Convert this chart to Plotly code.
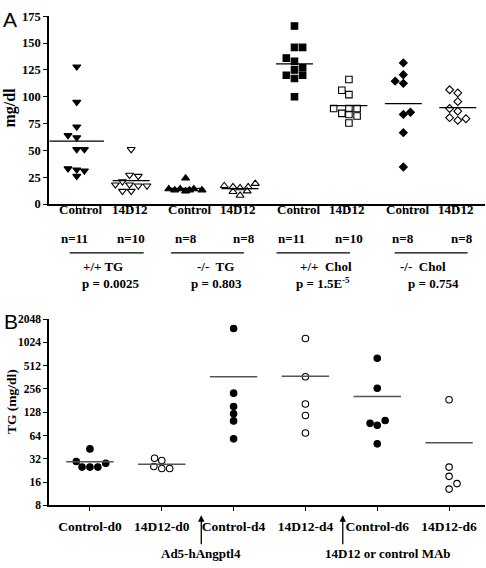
import numpy as np
import plotly.graph_objects as go

# ---------------- Panel A data ----------------
a_cat_labels = ["Control", "14D12", "Control", "14D12", "Control", "14D12", "Control", "14D12"]
a_n_labels = ["n=11", "n=10", "n=8", "n=8", "n=11", "n=10", "n=8", "n=8"]
a_group_labels = ["+/+ TG", "-/-\u00a0 TG", "+/+\u00a0 Chol", "-/-\u00a0 Chol"]
a_p_labels = ["p = 0.0025", "p = 0.803", "p = 1.5E<sup>-5</sup>", "p = 0.754"]

wt_tg_control = [128, 95, 72, 64, 62, 51, 51, 33, 32, 31, 26]
wt_tg_14d12 = [51, 27, 26, 18, 21, 18, 17, 17, 12, 12]
ko_tg_control = [24, 14, 13, 14, 12, 13, 14, 13]
ko_tg_14d12 = [17, 16, 15, 16, 19, 11.5, 12, 8]
wt_chol_control = [166, 146, 146, 136, 133, 127, 125, 120, 120, 117, 100]
wt_chol_14d12 = [116, 106, 102, 89, 89, 89, 84.5, 83.5, 82, 75.5]
ko_chol_control = [131.5, 120.5, 114.5, 112.5, 85.5, 83.5, 66.5, 34.5]
ko_chol_14d12 = [106.5, 103.5, 95.5, 89, 86.5, 80.5, 78, 79.5]

# horizontal spread of overlapping dots (category units)
jit_a = [
    [0, 0, 0, -0.16, 0, 0, 0.14, -0.16, 0, 0.14, 0],
    [0, -0.03, 0.13, -0.29, -0.16, -0.03, 0.13, 0.29, -0.16, 0.0],
    [0, -0.31, -0.2, -0.1, 0, 0.07, 0.15, 0.3],
    [-0.29, -0.13, 0, 0.15, 0.28, -0.13, 0.13, 0],
    [0, 0, 0.15, -0.15, 0, 0.15, 0, 0.15, -0.15, 0, 0],
    [0, -0.13, 0, -0.28, 0, 0.15, -0.13, 0, 0.15, 0],
    [0, 0, -0.15, 0, 0.13, 0, 0, 0],
    [-0.15, 0, 0, -0.15, 0, -0.15, 0, 0.15],
]
a_series = [wt_tg_control, wt_tg_14d12, ko_tg_control, ko_tg_14d12,
            wt_chol_control, wt_chol_14d12, ko_chol_control, ko_chol_14d12]
a_symbols = ["triangle-down", "triangle-down-open", "triangle-up", "triangle-up-open",
             "square", "square-open", "diamond", "diamond-open"]
a_sizes = [7, 7, 7, 7, 6.5, 6.5, 6, 6]
a_yticks = [0, 25, 50, 75, 100, 125, 150, 175]

# ---------------- Panel B data ----------------
b_categories = ["Control-d0", "14D12-d0", "Control-d4", "14D12-d4", "Control-d6", "14D12-d6"]
control_d0 = [43, 29.5, 25, 25, 25, 28]
mab_d0 = [32.5, 30.5, 25.5, 24, 24]
control_d4 = [1550, 226, 152, 122, 99, 58]
mab_d4 = [1150, 369, 164, 116, 69]
control_d6 = [638, 261, 92, 87, 100, 50]
mab_d6 = [186, 25, 19, 15.3, 13]
jit_b = [
    [0, -0.19, -0.11, 0, 0.11, 0.22],
    [-0.1, 0, -0.11, 0, 0.11],
    [0, 0, 0, 0, 0, 0],
    [0, 0, 0, 0, 0],
    [0, 0, -0.1, 0, 0.11, 0],
    [0, 0, 0, 0.11, 0],
]
b_series = [control_d0, mab_d0, control_d4, mab_d4, control_d6, mab_d6]
b_filled = [True, False, True, False, True, False]
b_yticks = [8, 16, 32, 64, 128, 256, 512, 1024, 2048]
b_notes = ["Ad5-hAngptl4", "14D12 or control MAb"]

SERIF = "Liberation Serif"
W, H = 486, 568
xdom = [49 / W, 485 / W]
ydomA = [1 - 202 / H, 1 - 9.5 / H]
ydomB = [1 - 511 / H, 1 - 320 / H]

fig = go.Figure()
shapes = []
annotations = []

for i, vals in enumerate(a_series):
    xs = [i + j for j in jit_a[i]]
    fig.add_trace(go.Scatter(
        x=xs, y=vals, mode="markers", xaxis="x", yaxis="y",
        marker=dict(symbol=a_symbols[i], size=a_sizes[i], color="black",
                    line=dict(color="black", width=1.1)),
        showlegend=False, hoverinfo="y"))
    m = float(np.mean(vals))
    hw = 0.5 if i == 0 else 0.34
    shapes.append(dict(type="line", xref="x", yref="y", x0=i - hw, x1=i + hw,
                       y0=m, y1=m, line=dict(color="black", width=1.2)))

for i, vals in enumerate(b_series):
    xs = [i + j for j in jit_b[i]]
    sym = "circle" if b_filled[i] else "circle-open"
    fig.add_trace(go.Scatter(
        x=xs, y=vals, mode="markers", xaxis="x2", yaxis="y2",
        marker=dict(symbol=sym, size=6.5, color="black",
                    line=dict(color="black", width=1.1)),
        showlegend=False, hoverinfo="y"))
    m = float(np.mean(vals))
    shapes.append(dict(type="line", xref="x2", yref="y2", x0=i - 0.33, x1=i + 0.33,
                       y0=m, y1=m, line=dict(color="#555555", width=1.5)))

bold = dict(family=SERIF, size=13, color="black", weight="bold")

# Panel A labels under the axis
lab_off = [0.07, -0.04] * 4
n_off = [-0.05, 0.0, 0.0, 0.08, -0.05, 0.0, 0.0, 0.08]
for i in range(8):
    annotations.append(dict(xref="x", yref="paper", x=i + lab_off[i], y=1 - 208 / H,
                            text=a_cat_labels[i], showarrow=False, font=bold,
                            xanchor="center", yanchor="middle"))
    annotations.append(dict(xref="x", yref="paper", x=i + n_off[i], y=1 - 237 / H,
                            text=a_n_labels[i], showarrow=False, font=bold,
                            xanchor="center", yanchor="middle"))
grp_line = [(-0.13, 1.23), (1.73, 3.07), (3.67, 5.02), (5.84, 7.18)]
grp_x = [0.49, 2.55, 4.57, 6.36]
p_x = [0.62, 2.57, 4.52, 6.56]
for g in range(4):
    x0, x1 = grp_line[g]
    shapes.append(dict(type="line", xref="x", yref="paper", x0=x0, x1=x1,
                       y0=1 - 252 / H, y1=1 - 252 / H, line=dict(color="black", width=1.2)))
    annotations.append(dict(xref="x", yref="paper", x=grp_x[g], y=1 - 266 / H,
                            text=a_group_labels[g], showarrow=False, font=bold,
                            xanchor="center", yanchor="middle"))
    annotations.append(dict(xref="x", yref="paper", x=p_x[g], y=1 - 283 / H,
                            text=a_p_labels[g], showarrow=False, font=bold,
                            xanchor="center", yanchor="middle"))

# Axis titles and panel letters
annotations.append(dict(xref="paper", yref="paper", x=10 / W, y=1 - 103 / H, text="mg/dl",
                        textangle=-90, showarrow=False,
                        font=dict(family=SERIF, size=16, color="black", weight="bold"),
                        xanchor="center", yanchor="middle"))
annotations.append(dict(xref="paper", yref="paper", x=11 / W, y=1 - 405 / H, text="TG (mg/dl)",
                        textangle=-90, showarrow=False,
                        font=dict(family=SERIF, size=13.5, color="black", weight="bold"),
                        xanchor="center", yanchor="middle"))
annotations.append(dict(xref="paper", yref="paper", x=1 / W, y=1 - 13 / H, text="A",
                        showarrow=False, font=dict(family="Liberation Sans", size=21, color="black"),
                        xanchor="left", yanchor="middle"))
annotations.append(dict(xref="paper", yref="paper", x=2 / W, y=1 - 322 / H, text="B",
                        showarrow=False, font=dict(family="Liberation Sans", size=21, color="black"),
                        xanchor="left", yanchor="middle"))

# Panel B arrows with their notes (text sits at the arrow tail)
pad = "\u00a0" * 28
for ax_x, txt in [(1.55, b_notes[0]), (3.52, pad + b_notes[1])]:
    annotations.append(dict(xref="x2", yref="paper", x=ax_x, y=1 - 521 / H, text=txt,
                            showarrow=True, arrowhead=2, arrowsize=1, arrowwidth=1.3,
                            arrowcolor="black", ax=0, ay=38, standoff=0,
                            font=bold, xanchor="center", yanchor="middle"))

axis_common = dict(showline=True, linecolor="black", linewidth=1.5, ticks="outside",
                   ticklen=4, tickwidth=1.2, tickcolor="black", showgrid=False,
                   zeroline=False, fixedrange=True)

fig.update_layout(
    width=W, height=H, margin=dict(l=0, r=0, t=0, b=0),
    paper_bgcolor="white", plot_bgcolor="white",
    xaxis=dict(domain=xdom, anchor="y", range=[-0.51, 7.5], tickvals=list(range(8)),
               showticklabels=False, **axis_common),
    yaxis=dict(domain=ydomA, anchor="x", range=[0, 175], tickvals=a_yticks,
               tickfont=dict(family=SERIF, size=12.5, color="black", weight="bold"),
               **axis_common),
    xaxis2=dict(domain=xdom, anchor="y2", range=[-0.57, 5.5], tickvals=list(range(6)),
                ticktext=b_categories, ticklabelstandoff=4,
                tickfont=dict(family=SERIF, size=13.5, color="black", weight="bold"),
                **axis_common),
    yaxis2=dict(domain=ydomB, anchor="x2", type="log",
                range=[np.log10(8), np.log10(2048)], tickvals=b_yticks,
                ticktext=[str(v) for v in b_yticks],
                tickfont=dict(family=SERIF, size=11.5, color="black", weight="bold"),
                **axis_common),
    shapes=shapes, annotations=annotations,
)

fig.write_html("out.html", config={"displayModeBar": False},
               post_script="document.body.style.margin='0';")
